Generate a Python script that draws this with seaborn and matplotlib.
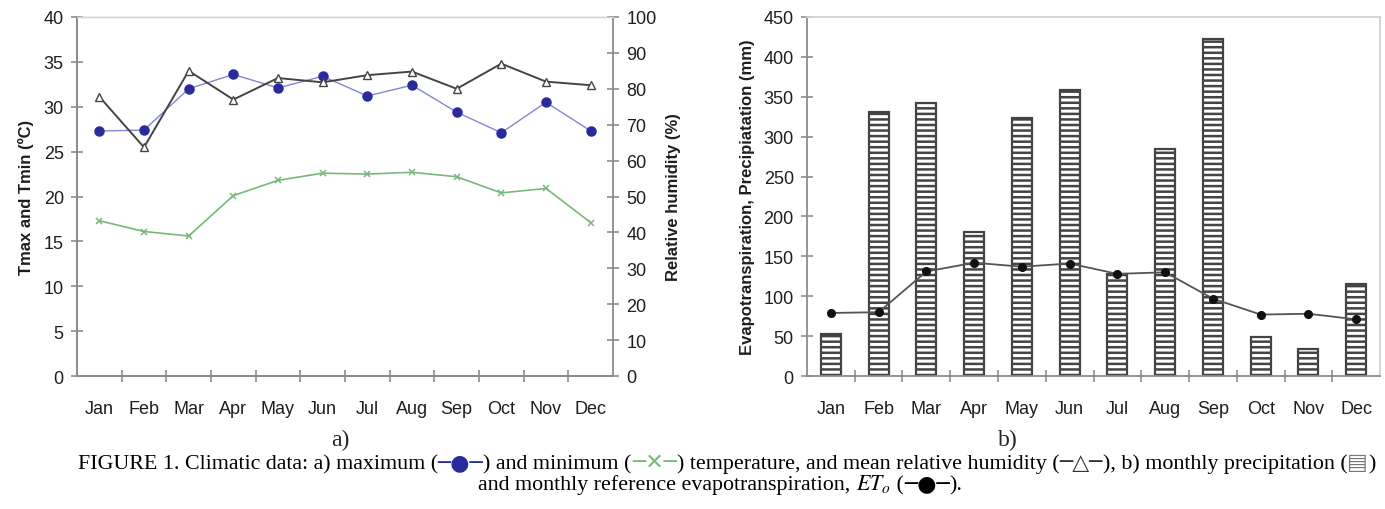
import numpy as np
import pandas as pd
import matplotlib
matplotlib.use("Agg")
import matplotlib.pyplot as plt
from matplotlib.ticker import FixedLocator, MultipleLocator
import seaborn as sns

months = ["Jan", "Feb", "Mar", "Apr", "May", "Jun", "Jul", "Aug", "Sep", "Oct", "Nov", "Dec"]
tmax = [27.3, 27.4, 32.0, 33.6, 32.1, 33.4, 31.2, 32.4, 29.4, 27.1, 30.5, 27.3]
tmin = [17.3, 16.1, 15.6, 20.1, 21.8, 22.6, 22.5, 22.7, 22.2, 20.4, 20.9, 17.1]
rh = [77.8, 63.7, 85.0, 77.0, 83.0, 81.8, 83.8, 84.8, 80.0, 87.0, 82.0, 81.0]
precip = [53, 331, 342, 180, 324, 358, 128, 285, 422, 49, 34, 115]
eto = [79, 80, 131, 142, 137, 141, 128, 130, 97, 77, 78, 71]

sns.set_style("ticks")
plt.rcParams["font.family"] = ["Liberation Sans", "DejaVu Sans"]
plt.rcParams["mathtext.fontset"] = "stix"
plt.rcParams["hatch.color"] = "#9a9a9a"
plt.rcParams["hatch.linewidth"] = 1.8

W, H = 1385, 510
fig = plt.figure(figsize=(W / 100, H / 100), dpi=100)

SP = "#8c8c8c"
TXT = "#1e1e1e"
FS = 13

ax1 = fig.add_axes([77 / W, 1 - 377 / H, (613 - 77) / W, (377 - 18) / H])
ax2 = ax1.twinx()
ax3 = fig.add_axes([807 / W, 1 - 377 / H, (1380 - 807) / W, (377 - 18) / H])

df = pd.DataFrame({"month": months, "tmax": tmax, "tmin": tmin, "rh": rh,
                   "precip": precip, "eto": eto})

# ---- left panel ----
sns.pointplot(data=df, x="month", y="tmax", ax=ax1, color="#8585d6", markers="o",
              linestyles="-", errorbar=None)
l = ax1.lines[-1]
l.set_linewidth(1.0); l.set_markersize(5.5); l.set_markerfacecolor("#2a2a9c"); l.set_markeredgecolor("#2a2a9c")
sns.pointplot(data=df, x="month", y="tmin", ax=ax1, color="#78b878", markers="x",
              linestyles="-", errorbar=None)
l = ax1.lines[-1]
l.set_linewidth(1.2); l.set_markersize(5); l.set_markeredgewidth(1.1)
sns.pointplot(data=df, x="month", y="rh", ax=ax2, color="#444444", markers="^",
              linestyles="-", errorbar=None)
l = ax2.lines[-1]
l.set_linewidth(1.4); l.set_markersize(6); l.set_markerfacecolor("white"); l.set_markeredgecolor("#444444"); l.set_markeredgewidth(1.0)

ax1.set_ylim(0, 40)
ax2.set_ylim(0, 100)
ax1.yaxis.set_major_locator(MultipleLocator(5))
ax2.yaxis.set_major_locator(MultipleLocator(10))
for a in (ax1, ax2):
    a.set_xlim(-0.5, 11.5)
ax1.set_ylabel("Tmax and Tmin (ºC)", fontsize=12, fontweight="bold", color=TXT, labelpad=7)
ax2.set_ylabel("Relative humidity (%)", fontsize=12, fontweight="bold", color=TXT, labelpad=7)
ax1.set_xlabel("")
ax2.set_xlabel("")

# ---- right panel ----
sns.barplot(data=df, x="month", y="precip", ax=ax3, color="white", edgecolor="#444444",
            linewidth=1.6, width=0.42, hatch="---", errorbar=None)
sns.pointplot(data=df, x="month", y="eto", ax=ax3, color="#111111", markers="o",
              linestyles="-", errorbar=None)
l = ax3.lines[-1]
l.set_linewidth(1.3); l.set_color("#555555"); l.set_markersize(4.5); l.set_markerfacecolor("#111111"); l.set_markeredgecolor("#111111")
ax3.set_xlim(-0.5, 11.5)
ax3.set_ylim(0, 450)
ax3.yaxis.set_major_locator(MultipleLocator(50))
ax3.set_ylabel("Evapotranspiration, Precipiatation (mm)", fontsize=12, fontweight="bold",
               color=TXT, labelpad=6)
ax3.set_xlabel("")

# ---- styling ----
for a in (ax1, ax3):
    a.set_xticks(range(12))
    a.set_xticklabels(months)
    a.xaxis.set_minor_locator(FixedLocator(np.arange(0.5, 11.5, 1)))
    a.tick_params(axis="x", which="major", length=0, pad=17, labelsize=FS, labelcolor=TXT)
    a.tick_params(axis="x", which="minor", length=9, direction="inout", color=SP, width=1.2)
    a.tick_params(axis="y", length=9, direction="inout", color=SP, width=1.2, labelsize=FS,
                  labelcolor=TXT, pad=5)
ax2.tick_params(axis="y", length=9, direction="inout", color=SP, width=1.2, labelsize=FS,
                labelcolor=TXT, pad=5)
ax2.tick_params(axis="x", which="both", length=0)

for a in (ax1, ax2):
    a.spines["left"].set_color(SP); a.spines["left"].set_linewidth(1.3)
    a.spines["bottom"].set_color(SP); a.spines["bottom"].set_linewidth(1.3)
    a.spines["right"].set_color(SP); a.spines["right"].set_linewidth(1.3)
    a.spines["top"].set_color("#d4d4d4"); a.spines["top"].set_linewidth(1.0)
ax1.spines["right"].set_visible(False)
ax3.spines["left"].set_color(SP); ax3.spines["left"].set_linewidth(1.3)
ax3.spines["bottom"].set_color(SP); ax3.spines["bottom"].set_linewidth(1.3)
for s in ("top", "right"):
    ax3.spines[s].set_visible(True)
    ax3.spines[s].set_color("#d0d0d0"); ax3.spines[s].set_linewidth(1.3)

# ---- captions ----
serif = ["Liberation Serif", "DejaVu Serif"]
sym = ["DejaVu Sans"]
CF = 15.8
fig.text(340 / W, 1 - 440 / H, "a)", fontsize=17, family=serif, ha="center", va="center")
fig.text(1008 / W, 1 - 440 / H, "b)", fontsize=17, family=serif, ha="center", va="center")

renderer = fig.canvas.get_renderer()


def draw_line(segments, ypix, shift):
    texts = []
    for s, color, fam in segments:
        t = fig.text(0, 1 - ypix / H, s, color=color, family=fam, fontsize=CF, va="baseline")
        texts.append(t)
    widths = [t.get_window_extent(renderer).width for t in texts]
    x = (W - sum(widths)) / 2 + shift
    for t, w in zip(texts, widths):
        t.set_x(x / W)
        x += w


draw_line([
    ("FIGURE 1. Climatic data: a) maximum (", "black", serif),
    ("─●─", "#2a2a9c", sym),
    (") and minimum (", "black", serif),
    ("─✕─", "#78b878", sym),
    (") temperature, and mean relative humidity (", "black", serif),
    ("─△─", "#333333", sym),
    ("), b) monthly precipitation (", "black", serif),
    ("▤", "#777777", sym),
    (")", "black", serif),
], 469, 34)
draw_line([
    ("and monthly reference evapotranspiration,", "black", serif),
    (r"$\ ET_o$", "black", serif),
    (" (", "black", serif),
    ("─●─", "black", sym),
    (").", "black", serif),
], 490, 28)

fig.savefig("out.png", dpi=100)
